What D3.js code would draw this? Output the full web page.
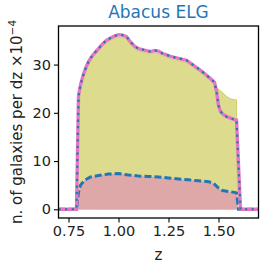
<!DOCTYPE html>
<html>
<head>
<meta charset="utf-8">
<script src="https://cdn.jsdelivr.net/npm/d3@7"></script>
<style>
body { margin: 0; background: #fff; }
svg { display: block; font-family: "DejaVu Sans", sans-serif; }
</style>
</head>
<body>
<div id="chart"></div>
<script>
// upper curve (solid pink + dotted blue)
var zTop = [0.70, 0.79, 0.80, 0.81, 0.82, 0.83, 0.84, 0.85, 0.86, 0.87, 0.88, 0.90, 0.92, 0.94, 0.96, 0.98,
    1.00, 1.02, 1.04, 1.06, 1.08, 1.10, 1.12, 1.14, 1.16, 1.18, 1.20, 1.22, 1.24, 1.26, 1.28, 1.30,
    1.32, 1.34, 1.36, 1.38, 1.40, 1.42, 1.44, 1.46, 1.48, 1.49, 1.50, 1.51, 1.52, 1.54, 1.56, 1.58,
    1.59, 1.61, 1.70];
var nTop = [0, 0, 23.5, 25.8, 27.3, 28.6, 29.7, 30.6, 31.3, 31.9, 32.4, 33.3, 34.3, 35.0, 35.5, 35.9,
    36.2, 36.1, 35.8, 34.7, 33.8, 33.3, 33.1, 32.9, 32.7, 32.9, 32.8, 32.3, 32.0, 31.7, 31.5, 31.3,
    31.1, 30.9, 30.3, 29.7, 29.1, 28.5, 27.8, 27.1, 26.3, 24.5, 21.5, 20.3, 19.8, 19.2, 18.9, 18.6,
    18.5, 0, 0];

// olive filled histogram
var zFill = [0.79, 0.80, 0.81, 0.82, 0.83, 0.84, 0.85, 0.86, 0.87, 0.88, 0.90, 0.92, 0.94, 0.96, 0.98,
    1.00, 1.02, 1.04, 1.06, 1.08, 1.10, 1.12, 1.14, 1.16, 1.18, 1.20, 1.22, 1.24, 1.26, 1.28, 1.30,
    1.32, 1.34, 1.36, 1.38, 1.40, 1.42, 1.44, 1.46, 1.48, 1.49, 1.50, 1.52, 1.54, 1.56, 1.58, 1.59, 1.595];
var nFill = [0, 23.0, 25.3, 26.8, 28.1, 29.2, 30.1, 30.8, 31.4, 31.9, 32.8, 33.8, 34.5, 35.0, 35.4,
    35.7, 35.6, 35.3, 34.2, 33.3, 32.8, 32.6, 32.4, 32.2, 32.4, 32.3, 31.8, 31.5, 31.2, 31.0, 30.8,
    30.6, 30.4, 29.8, 29.2, 28.6, 28.0, 27.3, 26.6, 25.8, 25.3, 24.9, 24.2, 23.4, 22.9, 22.7, 22.7, 0];

// lower curve (dashed blue, red fill)
var zLow = [0.70, 0.79, 0.80, 0.81, 0.83, 0.86, 0.90, 0.95, 1.00, 1.05, 1.10, 1.15, 1.20, 1.25, 1.30,
    1.35, 1.40, 1.45, 1.47, 1.48, 1.50, 1.52, 1.55, 1.58, 1.59, 1.60, 1.70];
var nLow = [0, 0, 3.5, 5.0, 6.0, 6.7, 7.0, 7.3, 7.4, 7.1, 6.9, 6.8, 6.7, 6.5, 6.3,
    6.1, 5.9, 5.7, 5.5, 5.2, 4.4, 3.9, 3.7, 3.5, 3.4, 0, 0];

var xTicks = [0.75, 1.00, 1.25, 1.50];
var yTicks = [0, 10, 20, 30];

var W = 266, H = 266;
var m = {left: 58.5, right: 7.5, top: 26, bottom: 48};
var pw = W - m.left - m.right, ph = H - m.top - m.bottom;

var svg = d3.select("#chart").append("svg").attr("width", W).attr("height", H);
var x = d3.scaleLinear().domain([0.7, 1.7]).range([0, pw]);
var y = d3.scaleLinear().domain([-1.81, 38.0]).range([ph, 0]);

var g = svg.append("g").attr("transform", "translate(" + m.left + "," + m.top + ")");
svg.append("clipPath").attr("id", "clip").append("rect").attr("width", pw).attr("height", ph);
var plot = g.append("g").attr("clip-path", "url(#clip)");

function pts(zs, vs) {
    return zs.map(function (d, i) { return [d, vs[i]]; });
}
var area = d3.area().x(function (d) { return x(d[0]); }).y0(y(0)).y1(function (d) { return y(d[1]); });
var line = d3.line().x(function (d) { return x(d[0]); }).y(function (d) { return y(d[1]); });

plot.append("path").attr("d", area(pts(zFill, nFill)))
    .style("fill", "#dddc8e").style("stroke", "#cfcd6a").style("stroke-width", 1);
plot.append("path").attr("d", area(pts(zLow, nLow)))
    .style("fill", "#dfa8a8").style("stroke", "none");
plot.append("path").attr("d", line(pts(zLow, nLow)))
    .style("fill", "none").style("stroke", "#1f77b4").style("stroke-width", 3)
    .style("stroke-dasharray", "7,3");
plot.append("path").attr("d", line(pts(zTop, nTop)))
    .style("fill", "none").style("stroke", "#e377c2").style("stroke-width", 3.4);
plot.append("path").attr("d", line(pts(zTop, nTop)))
    .style("fill", "none").style("stroke", "#1f77b4").style("stroke-width", 2.2)
    .style("stroke-dasharray", "2.2,4.4");

// axes
var xAxis = g.append("g").attr("transform", "translate(0," + ph + ")")
    .call(d3.axisBottom(x).tickValues(xTicks).tickFormat(d3.format(".2f")).tickSizeOuter(0).tickSize(4.5).tickPadding(3));
var yAxis = g.append("g")
    .call(d3.axisLeft(y).tickValues(yTicks).tickSizeOuter(0).tickSize(4.5).tickPadding(3));
[xAxis, yAxis].forEach(function (a) {
    a.select(".domain").remove();
    a.selectAll(".tick line").style("stroke", "#000").style("stroke-width", 1.1);
    a.selectAll(".tick text").style("font-family", "DejaVu Sans").style("font-size", "14.5px").style("fill", "#222");
});
g.append("rect").attr("width", pw).attr("height", ph)
    .style("fill", "none").style("stroke", "#000").style("stroke-width", 1.3);

svg.append("text").attr("x", m.left + pw / 2).attr("y", 17.5).attr("text-anchor", "middle")
    .style("font-size", "17px").style("fill", "#1f77b4").text("Abacus ELG");
svg.append("text").attr("x", m.left + pw / 2).attr("y", 260).attr("text-anchor", "middle")
    .style("font-size", "15px").style("fill", "#222").text("z");

var yl = svg.append("text").attr("transform", "translate(22," + (m.top + ph / 2) + ") rotate(-90)")
    .attr("text-anchor", "middle").style("font-size", "15px").style("fill", "#222");
yl.append("tspan").text("n. of galaxies per dz \u00d710");
yl.append("tspan").attr("dy", -6).style("font-size", "10.5px").text("\u22124");
</script>
</body>
</html>
